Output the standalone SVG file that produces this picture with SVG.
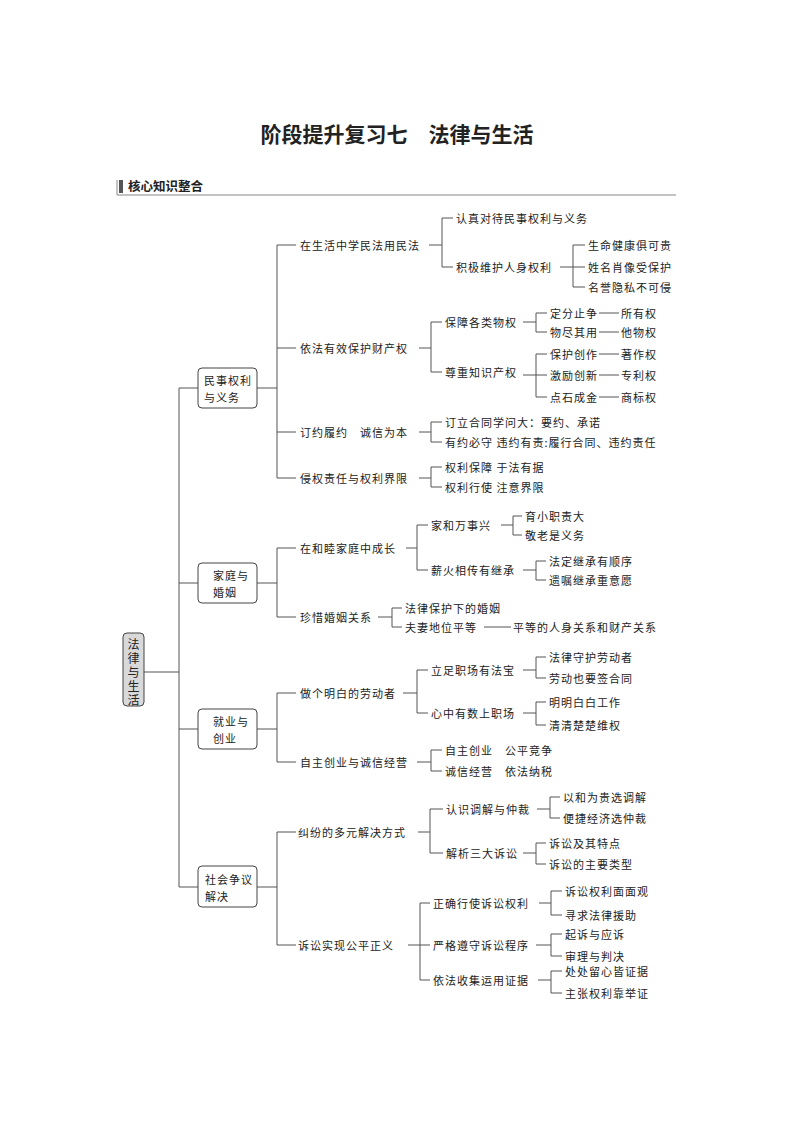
<svg xmlns="http://www.w3.org/2000/svg" width="794" height="1123" viewBox="0 0 794 1123">
<style>
text{font-family:"Noto Sans CJK SC","Noto Sans",sans-serif;fill:#222}
.t{font-size:11px;letter-spacing:1px;dominant-baseline:central}
.b{fill:#fff;stroke:#444;stroke-width:1}
#connectors path{fill:none;stroke:#555;stroke-width:1}
</style>
<rect width="794" height="1123" fill="#fff"/>
<text x="397" y="142" font-size="21" font-weight="bold" text-anchor="middle">阶段提升复习七　法律与生活</text>
<rect x="119" y="180" width="4" height="13" fill="#555"/>
<text x="128" y="191" font-size="12.5" font-weight="bold">核心知识整合</text>
<path d="M117 180V195H676" fill="none" stroke="#888" stroke-width="1"/>
<g id="connectors">
<path d="M144 672H179M179 388V887M179 388H198M179 583H198M179 729H198M179 887H198"/>
<path d="M257 388H277M277 245V478M277 245H296M277 348H296M277 432H296M277 478H296"/>
<path d="M429 245H442M442 218V267M442 218H453M442 267H453"/>
<path d="M560 267H573M573 245V287M573 245H585M573 267H585M573 287H585"/>
<path d="M419 348H431M431 322V372M431 322H442M431 372H442"/>
<path d="M523 322H536M536 313V332M536 313H547M536 332H547"/>
<path d="M523 375H536M536 354V397M536 354H547M536 375H547M536 397H547"/>
<path d="M599 313H619M599 332H619M599 354H619M599 375H619M599 397H619"/>
<path d="M419 432H431M431 422V442M431 422H442M431 442H442"/>
<path d="M419 478H431M431 467V487M431 467H442M431 487H442"/>
<path d="M257 583H277M277 548V617M277 548H296M277 617H296"/>
<path d="M406 548H417M417 525V570M417 525H428M417 570H428"/>
<path d="M501 525H513M513 516V535M513 516H522M513 535H522"/>
<path d="M523 570H536M536 561V580M536 561H546M536 580H546"/>
<path d="M378 617H392M392 608V627M392 608H402M392 627H402M484 627H511"/>
<path d="M257 729H277M277 693V762M277 693H296M277 762H296"/>
<path d="M403 693H417M417 670V713M417 670H428M417 713H428"/>
<path d="M523 670H536M536 657V678M536 657H546M536 678H546"/>
<path d="M523 713H536M536 702V725M536 702H546M536 725H546"/>
<path d="M417 762H431M431 750V771M431 750H442M431 771H442"/>
<path d="M257 887H277M277 832V945M277 832H296M277 945H296"/>
<path d="M418 832H430M430 809V853M430 809H443M430 853H443"/>
<path d="M537 809H550M550 797V818M550 797H560M550 818H560"/>
<path d="M523 853H536M536 843V864M536 843H546M536 864H546"/>
<path d="M408 945H420M420 903V980M420 903H430M420 945H430M420 980H430"/>
<path d="M539 903H551M551 891V915M551 891H562M551 915H562"/>
<path d="M536 945H551M551 934V956M551 934H562M551 956H562"/>
<path d="M538 980H551M551 971V993M551 971H562M551 993H562"/>
</g>
<g id="root"><rect x="123" y="633" width="21" height="73" rx="4" fill="#d9d9d9" stroke="#444"/>
<text font-size="12" text-anchor="middle" dominant-baseline="central"><tspan x="133.5" y="643">法</tspan><tspan x="133.5" y="657">律</tspan><tspan x="133.5" y="671">与</tspan><tspan x="133.5" y="685">生</tspan><tspan x="133.5" y="699">活</tspan></text></g>
<g id="n1"><rect class="b" x="198" y="368" width="59" height="40" rx="4"/><text class="t" x="204" y="380">民事权利</text><text class="t" x="204" y="397">与义务</text></g>
<g id="n2"><rect class="b" x="198" y="563" width="59" height="40" rx="4"/><text class="t" x="213" y="575">家庭与</text><text class="t" x="213" y="592">婚姻</text></g>
<g id="n3"><rect class="b" x="198" y="709" width="59" height="40" rx="4"/><text class="t" x="213" y="721">就业与</text><text class="t" x="213" y="738">创业</text></g>
<g id="n4"><rect class="b" x="198" y="866" width="59" height="41" rx="4"/><text class="t" x="205" y="879">社会争议</text><text class="t" x="205" y="896">解决</text></g>
<g id="l2">
<text class="t" x="300" y="245">在生活中学民法用民法</text>
<text class="t" x="300" y="348">依法有效保护财产权</text>
<text class="t" x="300" y="432">订约履约　诚信为本</text>
<text class="t" x="300" y="478">侵权责任与权利界限</text>
<text class="t" x="300" y="548">在和睦家庭中成长</text>
<text class="t" x="300" y="617">珍惜婚姻关系</text>
<text class="t" x="300" y="693">做个明白的劳动者</text>
<text class="t" x="300" y="762">自主创业与诚信经营</text>
<text class="t" x="298" y="832">纠纷的多元解决方式</text>
<text class="t" x="298" y="945">诉讼实现公平正义</text>
</g>
<g id="l3">
<text class="t" x="456" y="218">认真对待民事权利与义务</text>
<text class="t" x="456" y="267">积极维护人身权利</text>
<text class="t" x="588" y="245">生命健康俱可贵</text>
<text class="t" x="588" y="267">姓名肖像受保护</text>
<text class="t" x="588" y="287">名誉隐私不可侵</text>
<text class="t" x="445" y="322">保障各类物权</text>
<text class="t" x="445" y="372">尊重知识产权</text>
<text class="t" x="550" y="313">定分止争</text><text class="t" x="621" y="313">所有权</text>
<text class="t" x="550" y="332">物尽其用</text><text class="t" x="621" y="332">他物权</text>
<text class="t" x="550" y="354">保护创作</text><text class="t" x="621" y="354">著作权</text>
<text class="t" x="550" y="375">激励创新</text><text class="t" x="621" y="375">专利权</text>
<text class="t" x="550" y="397">点石成金</text><text class="t" x="621" y="397">商标权</text>
<text class="t" x="445" y="422">订立合同学问大：要约、承诺</text>
<text class="t" x="445" y="442">有约必守 违约有责:履行合同、违约责任</text>
<text class="t" x="445" y="467">权利保障 于法有据</text>
<text class="t" x="445" y="487">权利行使 注意界限</text>
<text class="t" x="431" y="525">家和万事兴</text>
<text class="t" x="431" y="570">薪火相传有继承</text>
<text class="t" x="525" y="516">育小职责大</text>
<text class="t" x="525" y="535">敬老是义务</text>
<text class="t" x="549" y="561">法定继承有顺序</text>
<text class="t" x="549" y="580">遗嘱继承重意愿</text>
<text class="t" x="405" y="608" font-size="12">法律保护下的婚姻</text>
<text class="t" x="405" y="627" font-size="12">夫妻地位平等</text>
<text class="t" x="513" y="627" font-size="12">平等的人身关系和财产关系</text>
<text class="t" x="431" y="670">立足职场有法宝</text>
<text class="t" x="431" y="713">心中有数上职场</text>
<text class="t" x="549" y="657">法律守护劳动者</text>
<text class="t" x="549" y="678">劳动也要签合同</text>
<text class="t" x="549" y="702">明明白白工作</text>
<text class="t" x="549" y="725">清清楚楚维权</text>
<text class="t" x="445" y="750">自主创业　公平竞争</text>
<text class="t" x="445" y="771">诚信经营　依法纳税</text>
<text class="t" x="446" y="809">认识调解与仲裁</text>
<text class="t" x="446" y="853">解析三大诉讼</text>
<text class="t" x="563" y="797">以和为贵选调解</text>
<text class="t" x="563" y="818">便捷经济选仲裁</text>
<text class="t" x="549" y="843">诉讼及其特点</text>
<text class="t" x="549" y="864">诉讼的主要类型</text>
<text class="t" x="433" y="903">正确行使诉讼权利</text>
<text class="t" x="433" y="945">严格遵守诉讼程序</text>
<text class="t" x="433" y="980">依法收集运用证据</text>
<text class="t" x="565" y="891">诉讼权利面面观</text>
<text class="t" x="565" y="915">寻求法律援助</text>
<text class="t" x="565" y="934">起诉与应诉</text>
<text class="t" x="565" y="956">审理与判决</text>
<text class="t" x="565" y="971">处处留心皆证据</text>
<text class="t" x="565" y="993">主张权利靠举证</text>
</g>
</svg>
